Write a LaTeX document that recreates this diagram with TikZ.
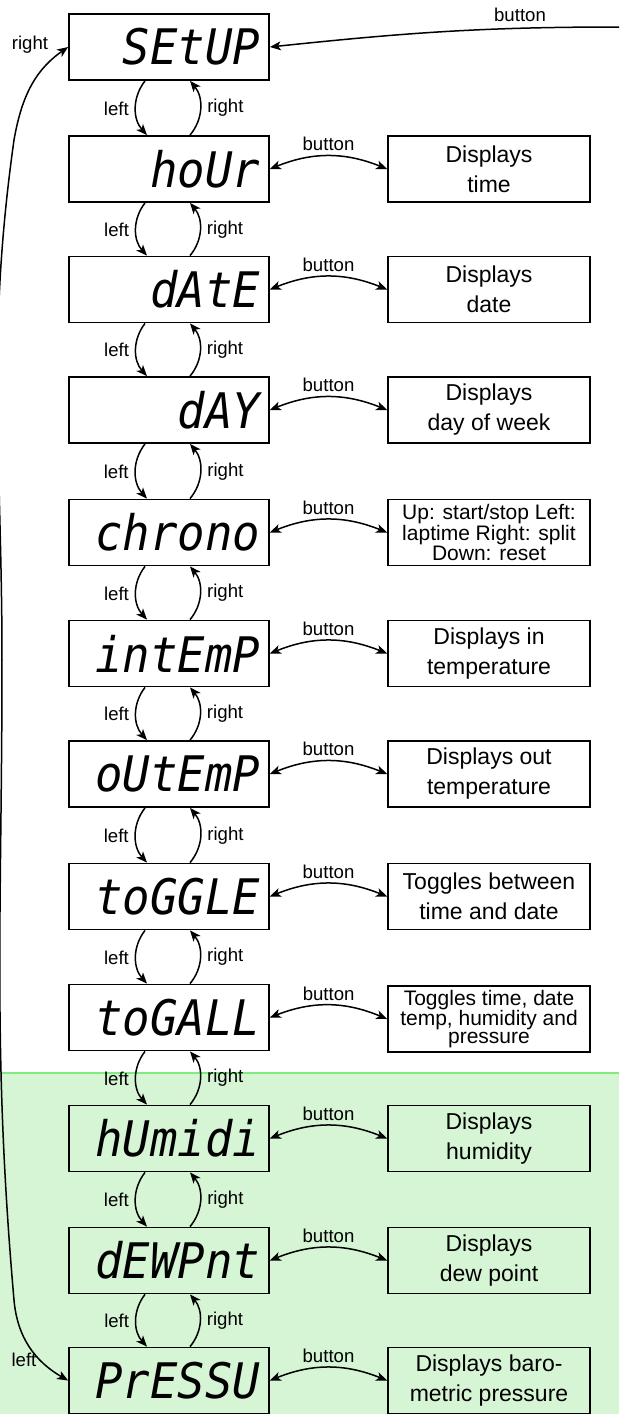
\documentclass[tikz,border=0pt]{standalone}
\usepackage{fontspec}
\setmainfont{Liberation Sans}
\newfontfamily\segfont{DejaVu Sans Mono}[FakeStretch=0.93]
\usetikzlibrary{arrows.meta}
\definecolor{gfill}{HTML}{D5F5D5}
\definecolor{gline}{HTML}{80EC80}
\begin{document}
\begin{tikzpicture}[x=1pt,y=1pt,
  seg/.style={draw, line width=1.8pt, minimum height=66pt, text width=182pt, inner xsep=9pt, inner ysep=0pt, align=right, font=\segfont\itshape\fontsize{49}{49}\selectfont},
  info/.style={draw, line width=1.8pt, minimum width=202pt, minimum height=66pt, align=center, inner sep=1pt, font=\fontsize{23}{30}\selectfont},
  infosm/.style={info, font=\fontsize{21}{18.3}\selectfont},
  lbl/.style={font=\fontsize{18.6}{22}\selectfont},
  tip/.tip={Stealth[length=11pt,width=9pt,inset=3pt]},
  arr/.style={line width=1.5pt, -tip},
  barr/.style={line width=1.5pt, tip-tip},
]
\useasboundingbox (0,0) rectangle (619,-1414);
% green region
\fill[gfill] (0,-1073) rectangle (619,-1414);
\draw[gline, line width=1.5pt] (0,-1073) -- (619,-1073);

% display boxes
\foreach \i/\yy/\t in {0/47/SEtUP, 1/169/hoUr, 2/289.5/dAtE, 3/410/dAY, 4/532.5/chrono, 5/653.5/intEmP, 6/774/oUtEmP, 7/896.5/toGGLE, 8/1017.5/toGALL, 9/1138.5/hUmidi, 10/1260.5/dEWPnt, 11/1380.5/PrESSU}
  \node[seg] (b\i) at (169,-\yy) {\t};

% info boxes
\node[info] (r1) at (489,-169) {Displays\\time};
\node[info] (r2) at (489,-289.5) {Displays\\date};
\node[info] (r3) at (489,-410) {Displays\\day of week};
\node[infosm] (r4) at (489,-532.5) {Up: start/stop Left:\\laptime Right: split\\Down: reset};
\node[info] (r5) at (489,-653.5) {Displays in\\temperature};
\node[info] (r6) at (489,-774) {Displays out\\temperature};
\node[info] (r7) at (489,-896.5) {Toggles between\\time and date};
\node[infosm] (r8) at (489,-1019) {Toggles time, date\\temp, humidity and\\pressure};
\node[info] (r9) at (489,-1138.5) {Displays\\humidity};
\node[info] (r10) at (489,-1260.5) {Displays\\dew point};
\node[info] (r11) at (489,-1380.5) {Displays baro-\\metric pressure};

% button connectors
\foreach \i in {1,...,11}
  \draw[barr] (b\i.east) to[bend left=22] node[lbl, above=1pt] {button} (r\i.west);

% left/right connectors
\foreach \i in {0,...,10} {
  \pgfmathtruncatemacro{\j}{\i+1}
  \draw[arr] ([xshift=-24pt]b\i.south) to[bend right=40] node[lbl, left=3pt] {left} ([xshift=-22pt]b\j.north);
  \draw[arr] ([xshift=21pt]b\j.north) to[bend right=40] node[lbl, right=3pt] {right} ([xshift=21pt]b\i.south);
}

% incoming button connector
\coordinate (in0) at (619,-27);
\draw[arr] (in0) to[out=180, in=6] (b0.east);
\node[lbl] (tb) at (520,-15) {button};

% long wrap-around connector
\coordinate (w1) at (14,-140);
\coordinate (w2) at (2,-660);
\coordinate (w3) at (14,-1300);
\draw[barr] (b0.west) to[out=215,in=80] (w1) to[out=-98,in=90] (w2) to[out=-90,in=95] (w3) to[out=-85,in=150] (b11.west);
\node[lbl] (rl) at (30,-45) {right};
\node[lbl] (ll) at (24,-1360) {left};
\end{tikzpicture}
\end{document}
